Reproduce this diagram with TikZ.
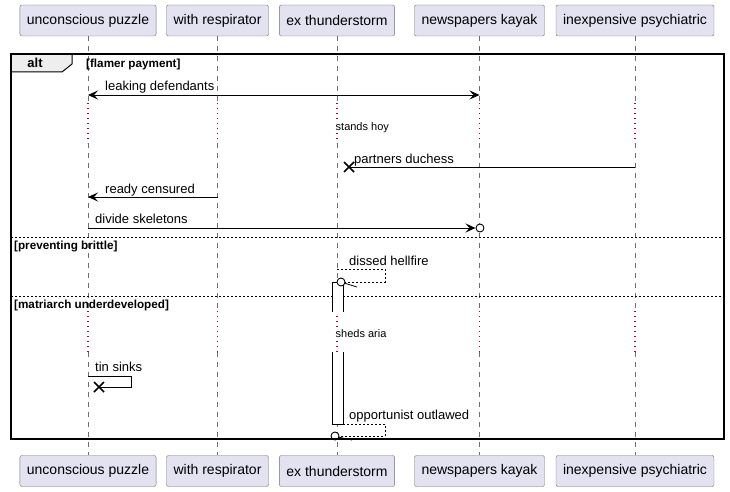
\documentclass[tikz,border=0pt]{standalone}
\usepackage{fontspec}
\setmainfont{Liberation Sans}
\usepackage{tikz}
\usetikzlibrary{arrows.meta}
\definecolor{partFill}{HTML}{E2E2F0}
\definecolor{partLine}{HTML}{6E6E6E}
\definecolor{delayDot}{HTML}{A80036}
\definecolor{tabFill}{HTML}{EEEEEE}
\tikzstyle{participant} = [rectangle, rounded corners=2pt, draw=partLine,
fill=partFill, minimum height=31pt, inner xsep=7pt, font=\fontsize{14}{16}\selectfont]
\tikzstyle{lifeline} = [draw=partLine, line width=0.5pt, dash pattern=on 5pt off 5pt]
\tikzstyle{delay} = [draw=delayDot, line width=1.1pt, dash pattern=on 1.1pt off 3.9pt]
\tikzstyle{msg} = [line width=0.8pt]
\tikzstyle{reply} = [line width=0.6pt, dash pattern=on 2pt off 2pt]
\tikzstyle{arrow} = [msg, ->, >={Stealth[length=10pt,width=9pt,inset=4pt]}]
\tikzstyle{cross} = [line width=1.5pt]
\tikzstyle{endcircle} = [line width=0.9pt, fill=white]
\tikzstyle{msgtext} = [anchor=base west, inner sep=0pt, font=\fontsize{13}{15}\selectfont]
\tikzstyle{guard} = [anchor=base west, inner sep=0pt, font=\bfseries\fontsize{11.7}{13}\selectfont]
\tikzstyle{delaytext} = [anchor=base west, inner sep=0.5pt, fill=white, font=\fontsize{11}{13}\selectfont]
\tikzstyle{divider} = [line width=0.5pt, dash pattern=on 2pt off 2pt]

\begin{document}
\begin{tikzpicture}[x=1pt, y=-1pt]
\useasboundingbox (0,0) rectangle (730,492);

% participants
\node(upTop)[participant] at (88,20.5){unconscious puzzle};
\node(wrTop)[participant] at (217.5,20.5){with respirator};
\node(etTop)[participant] at (337,20.5){ex thunderstorm};
\node(nkTop)[participant] at (479.5,20.5){newspapers kayak};
\node(ipTop)[participant] at (635,20.5){inexpensive psychiatric};
\node(upBot)[participant] at (88,471){unconscious puzzle};
\node(wrBot)[participant] at (217.5,471){with respirator};
\node(etBot)[participant] at (337,471){ex thunderstorm};
\node(nkBot)[participant] at (479.5,471){newspapers kayak};
\node(ipBot)[participant] at (635,471){inexpensive psychiatric};

% lifelines with the two delays
\foreach \p in {up,wr,et,nk,ip}{
  \draw[lifeline](\p Top.south) -- (\p Top.south |- 0,103);
  \draw[delay](\p Top.south |- 0,103) -- (\p Top.south |- 0,143);
  \draw[lifeline](\p Top.south |- 0,143) -- (\p Top.south |- 0,311);
  \draw[delay](\p Top.south |- 0,311) -- (\p Top.south |- 0,352);
  \draw[lifeline](\p Top.south |- 0,352) -- (\p Bot.north);
}

% alt frame
\draw[line width=1pt, fill=tabFill](11,54) -- (72,54) -- (72,64) -- (62,72) -- (11,72) -- cycle;
\node[font=\bfseries\fontsize{13}{15}\selectfont] at (35,63){alt};
\node[guard] at (86,68){[flamer payment]};
\draw[divider](11,237) -- (724,237);
\node[guard] at (14,249){[preventing brittle]};
\draw[divider](11,296) -- (724,296);
\node[guard] at (14,308){[matriarch underdeveloped]};

% activation
\draw[msg, fill=white](332,312) -- (332,282) -- (343,282) -- (343,312);
\draw[msg, fill=white](332,352) -- (332,424) -- (343,424) -- (343,352);

% messages
\draw[arrow, <->](upTop |- 0,95) -- (nkTop |- 0,95);
\node[msgtext] at (105,91){leaking defendants};
\node[delaytext] at (335,130){stands hoy};
\draw[msg](ipTop |- 0,167) -- (349,167);
\draw[cross](344,162) -- (354,172) (344,172) -- (354,162);
\node[msgtext] at (354,163){partners duchess};
\draw[arrow](wrTop |- 0,197) -- (upTop |- 0,197);
\node[msgtext] at (105,193){ready censured};
\draw[arrow](upTop |- 0,228) -- (475.5,228);
\draw[endcircle](480,228) circle (4);
\node[msgtext] at (95,223){divide skeletons};
\draw[reply](etTop |- 0,269) -- (385,269) -- (385,282) -- (345,282);
\draw[msg](344,283) -- (357,287);
\draw[endcircle](341,282) circle (4);
\node[msgtext] at (349,265){dissed hellfire};
\node[delaytext] at (335,337){sheds aria};
\draw[msg](upTop |- 0,376) -- (131,376) -- (131,387) -- (99,387);
\draw[cross](94,382) -- (104,392) (94,392) -- (104,382);
\node[msgtext] at (95,371){tin sinks};
\draw[reply](343,424) -- (385,424) -- (385,436) -- (339,436);
\draw[msg](338,437) -- (352,440);
\draw[endcircle](335,436) circle (4);
\node[msgtext] at (349,419){opportunist outlawed};

\draw[line width=1.5pt](11,54) rectangle (724,439);
\end{tikzpicture}
\end{document}
